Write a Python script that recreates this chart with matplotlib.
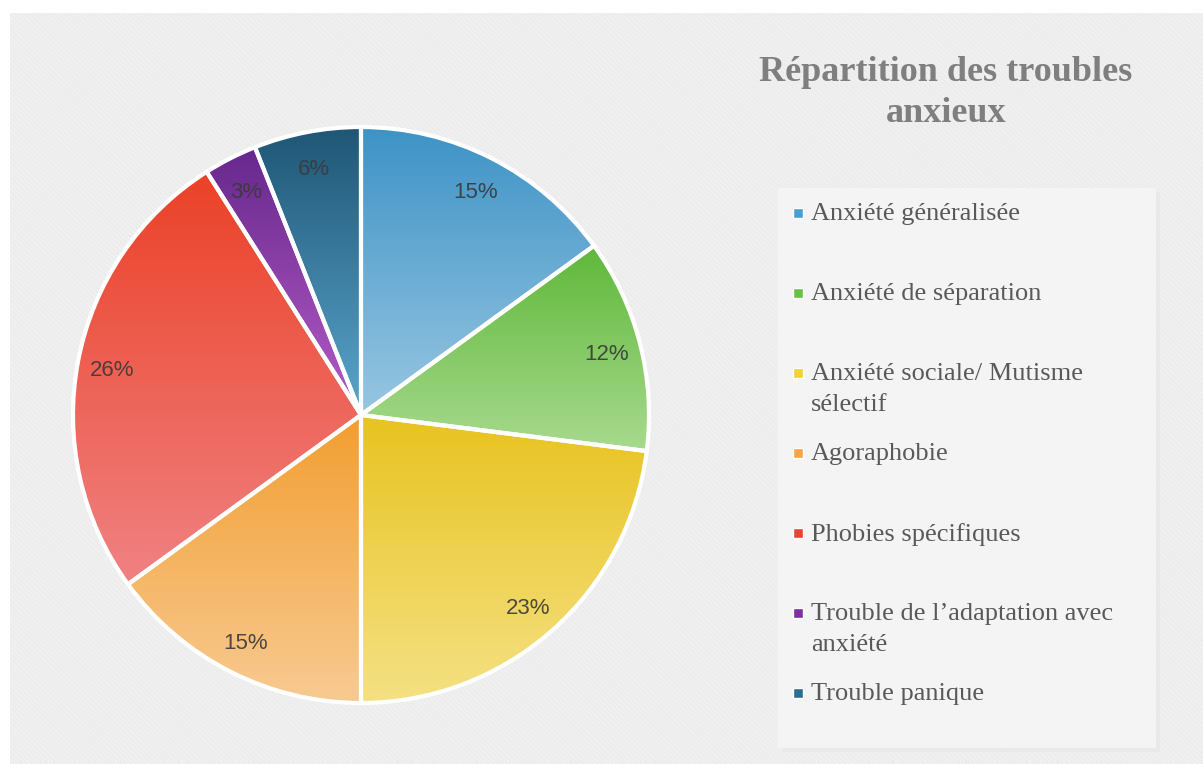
import numpy as np
import matplotlib
matplotlib.use("Agg")
import matplotlib.pyplot as plt
from matplotlib.colors import LinearSegmentedColormap
from matplotlib.patches import Rectangle

# ---------------- data ----------------
categories = [
    "Anxiété généralisée",
    "Anxiété de séparation",
    "Anxiété sociale/ Mutisme\nsélectif",
    "Agoraphobie",
    "Phobies spécifiques",
    "Trouble de l’adaptation avec\nanxiété",
    "Trouble panique",
]
values = [15, 12, 23, 15, 26, 3, 6]
title = "Répartition des troubles\nanxieux"

# gradient colours (top, bottom) per slice and legend swatch colours
top_colors = ["#3d93c6", "#5fb83a", "#e8c31f", "#f29e30", "#eb4127", "#66288c", "#1f5676"]
bottom_colors = ["#98c6e2", "#a8da8e", "#f5e184", "#f8ca92", "#f08282", "#b65cc8", "#5aa6cc"]
swatch_colors = ["#4a9fd2", "#68c046", "#f0d232", "#f5a448", "#e84434", "#7f2fa2", "#2c6e92"]

W, H = 1203, 764
fig = plt.figure(figsize=(W / 100, H / 100), dpi=100)
fig.patch.set_facecolor("white")

# ---------------- textured background ----------------
bg = fig.add_axes([0, 0, 1, 1])
bg.set_xlim(0, W)
bg.set_ylim(H, 0)
bg.axis("off")
yy, xx = np.mgrid[0:H, 0:W]
tex = 0.935 + 0.018 * np.sin((xx - yy) * 2 * np.pi / 5.0) * (0.6 + 0.4 * np.sin((xx + yy) * 2 * np.pi / 9.0))
tex = np.clip(tex, 0, 1)
bg.imshow(np.dstack([tex, tex, tex]), extent=(10, W, H, 13), zorder=0, interpolation="bilinear")

# legend box
bg.add_patch(Rectangle((782, 192), 378, 560, facecolor="#e6e6e6", edgecolor="none", alpha=0.5, zorder=1))
bg.add_patch(Rectangle((778, 188), 378, 560, facecolor="#f6f6f6", edgecolor="none", alpha=0.85, zorder=2))

# ---------------- pie ----------------
ax = fig.add_axes([0, 0, 1, 1])
ax.patch.set_alpha(0)
cx, cy, R = 361, H - 415, 288
wedges, _ = ax.pie(values, startangle=90, counterclock=False, center=(cx, cy), radius=R,
                   wedgeprops=dict(edgecolor="white", linewidth=3), frame=True)
ax.set_xlim(0, W)
ax.set_ylim(0, H)
ax.set_aspect("equal")
ax.axis("off")

for w, ct, cb in zip(wedges, top_colors, bottom_colors):
    ext = w.get_path().get_extents()
    cmap = LinearSegmentedColormap.from_list("g", [cb, ct])
    grad = np.linspace(0, 1, 256).reshape(-1, 1)
    im = ax.imshow(grad, cmap=cmap, origin="lower", aspect="auto",
                   extent=(ext.x0, ext.x1, ext.y0, ext.y1), zorder=1)
    im.set_clip_path(w)
    w.set_facecolor("none")
    w.set_zorder(2)

ax.set_xlim(0, W)
ax.set_ylim(0, H)

# percentage labels
total = sum(values)
cum = 0
for v in values:
    mid = 90 - (cum + v / 2) / total * 360
    cum += v
    r = 0.88 * R
    ax.text(cx + r * np.cos(np.radians(mid)), cy + r * np.sin(np.radians(mid)) - 3,
            f"{round(v / total * 100)}%", ha="center", va="center",
            fontsize=16, family="Liberation Sans", color="#3a3a3a", alpha=0.9, zorder=3)

# ---------------- title ----------------
bg.text(946, 93, title, ha="center", va="center", fontsize=26, fontweight="bold",
        family="Liberation Serif", color="#7f7f7f", linespacing=1.32, zorder=3)

# ---------------- legend ----------------
y0, step = 213, 80
for i, (lab, col) in enumerate(zip(categories, swatch_colors)):
    y = y0 + i * step
    bg.add_patch(Rectangle((793, y - 5), 10, 10, facecolor=col, edgecolor="white", linewidth=1, zorder=4))
    bg.text(811, y - 10, lab, ha="left", va="top", fontsize=19, family="Liberation Serif",
            color="#595959", linespacing=1.52, zorder=4)

fig.savefig("out.png", dpi=100)
